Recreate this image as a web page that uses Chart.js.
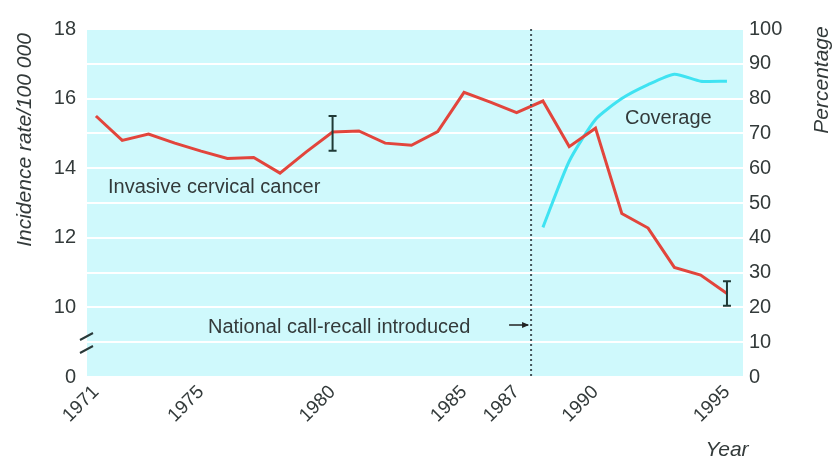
<!DOCTYPE html>
<html lang="en">
<head>
  <meta charset="UTF-8">
  <title>Cervical cancer incidence and screening coverage</title>
  <script src="https://cdn.jsdelivr.net/npm/chart.js"></script>
  <style>
    html, body { margin: 0; padding: 0; background: #fff; }
    canvas { display: block; }
  </style>
</head>
<body>
  <canvas id="chart" width="835" height="461"></canvas>
  <script>
    // data
    const years = [1971, 1972, 1973, 1974, 1975, 1976, 1977, 1978, 1979, 1980, 1981, 1982, 1983,
                   1984, 1985, 1986, 1987, 1988, 1989, 1990, 1991, 1992, 1993, 1994, 1995];
    const incidence = [15.5, 14.8, 14.98, 14.72, 14.49, 14.28, 14.31, 13.86, 14.47, 15.04, 15.07, 14.72, 14.66,
                       15.05, 16.18, 15.9, 15.6, 15.93, 14.62, 15.15, 12.7, 12.28, 11.15, 10.93, 10.4];
    const coverageYears = [1988, 1989, 1990, 1991, 1992, 1993, 1994, 1995];
    const coverage = [43, 62, 74, 80, 84, 87, 85, 85];
    const errorBars = [[1980, 14.5, 15.5], [1995, 10.05, 10.75]];
    const yearTicks = [1971, 1975, 1980, 1985, 1987, 1990, 1995];
    const recallYear = 1987.55;

    const textColor = '#333a3a';
    const font = 'Liberation Sans, Arial, sans-serif';

    const extras = {
      id: 'extras',
      beforeDraw(chart) {
        const { ctx, chartArea: a } = chart;
        ctx.save();
        ctx.fillStyle = '#cff9fc';
        ctx.fillRect(a.left, a.top, a.right - a.left, a.bottom - a.top);
        ctx.restore();
      },
      afterDatasetsDraw(chart) {
        const { ctx, chartArea: a, scales } = chart;
        const x = scales.x, y = scales.y;
        ctx.save();

        // call-recall line
        const xr = x.getPixelForValue(recallYear);
        ctx.strokeStyle = '#44555a';
        ctx.lineWidth = 2;
        ctx.setLineDash([2, 3]);
        ctx.beginPath();
        ctx.moveTo(xr, a.top);
        ctx.lineTo(xr, a.bottom);
        ctx.stroke();
        ctx.setLineDash([]);

        // error bars
        ctx.strokeStyle = '#1f3a36';
        ctx.lineWidth = 2;
        errorBars.forEach(([yr, lo, hi]) => {
          const px = x.getPixelForValue(yr);
          const p1 = y.getPixelForValue(lo), p2 = y.getPixelForValue(hi);
          ctx.beginPath();
          ctx.moveTo(px, p1); ctx.lineTo(px, p2);
          ctx.moveTo(px - 4, p1); ctx.lineTo(px + 4, p1);
          ctx.moveTo(px - 4, p2); ctx.lineTo(px + 4, p2);
          ctx.stroke();
        });

        // annotations
        ctx.fillStyle = textColor;
        ctx.font = '20px ' + font;
        ctx.textBaseline = 'middle';
        ctx.textAlign = 'left';
        ctx.fillText('Invasive cervical cancer', 108, 187);
        ctx.fillText('Coverage', 625, 118);
        ctx.fillText('National call-recall introduced', 208, 327);

        // arrow
        ctx.strokeStyle = '#222';
        ctx.lineWidth = 1.5;
        ctx.beginPath();
        ctx.moveTo(xr - 22, 325);
        ctx.lineTo(xr - 3, 325);
        ctx.stroke();
        ctx.fillStyle = '#222';
        ctx.beginPath();
        ctx.moveTo(xr - 2, 325);
        ctx.lineTo(xr - 9, 322);
        ctx.lineTo(xr - 9, 328);
        ctx.closePath();
        ctx.fill();

        // axis break
        ctx.strokeStyle = '#2a3a3a';
        ctx.lineWidth = 2;
        ctx.beginPath();
        ctx.moveTo(80, 340); ctx.lineTo(93, 333);
        ctx.moveTo(80, 353); ctx.lineTo(93, 346);
        ctx.stroke();

        // axis titles
        ctx.fillStyle = textColor;
        ctx.font = 'italic 21px ' + font;
        ctx.textAlign = 'center';
        ctx.save();
        ctx.translate(25, 140);
        ctx.rotate(-Math.PI / 2);
        ctx.fillText('Incidence rate/100 000', 0, 0);
        ctx.restore();
        ctx.save();
        ctx.translate(822, 80);
        ctx.rotate(-Math.PI / 2);
        ctx.fillText('Percentage', 0, 0);
        ctx.restore();
        ctx.fillText('Year', 727, 450);
        ctx.restore();
      }
    };

    new Chart(document.getElementById('chart'), {
      type: 'line',
      data: {
        datasets: [
          {
            label: 'Invasive cervical cancer',
            data: years.map((yr, i) => ({ x: yr, y: incidence[i] })),
            borderColor: '#e2453c',
            borderWidth: 3,
            pointRadius: 0,
            tension: 0,
            yAxisID: 'y'
          },
          {
            label: 'Coverage',
            data: coverageYears.map((yr, i) => ({ x: yr, y: coverage[i] })),
            borderColor: '#3fe3f2',
            borderWidth: 3,
            pointRadius: 0,
            tension: 0.2,
            yAxisID: 'y2'
          }
        ]
      },
      options: {
        responsive: false,
        animation: false,
        layout: { padding: { top: 29, left: 0, right: 0, bottom: 0 } },
        plugins: { legend: { display: false }, tooltip: { enabled: false } },
        scales: {
          x: {
            type: 'linear',
            min: 1970.66,
            max: 1995.61,
            afterBuildTicks: (s) => { s.ticks = yearTicks.map(v => ({ value: v })); },
            afterFit: (s) => { s.height = 84; },
            grid: { display: false, drawTicks: false },
            border: { display: false },
            ticks: {
              autoSkip: false,
              maxRotation: 45,
              minRotation: 45,
              padding: 4,
              color: textColor,
              font: { family: font, size: 19 },
              callback: (v) => String(v)
            }
          },
          y: {
            position: 'left',
            min: 8,
            max: 18,
            afterFit: (s) => { s.width = 87; },
            grid: { color: '#ffffff', lineWidth: 2, drawTicks: false },
            border: { display: false },
            ticks: {
              stepSize: 1,
              padding: 11,
              color: textColor,
              font: { family: font, size: 20 },
              callback: (v) => v === 8 ? '0' : (v >= 10 && v % 2 === 0 ? String(v) : '')
            }
          },
          y2: {
            position: 'right',
            min: 0,
            max: 100,
            afterFit: (s) => { s.width = 92; },
            grid: { display: false, drawTicks: false },
            border: { display: false },
            ticks: {
              stepSize: 10,
              padding: 6,
              color: textColor,
              font: { family: font, size: 20 }
            }
          }
        }
      },
      plugins: [extras]
    });
  </script>
</body>
</html>
